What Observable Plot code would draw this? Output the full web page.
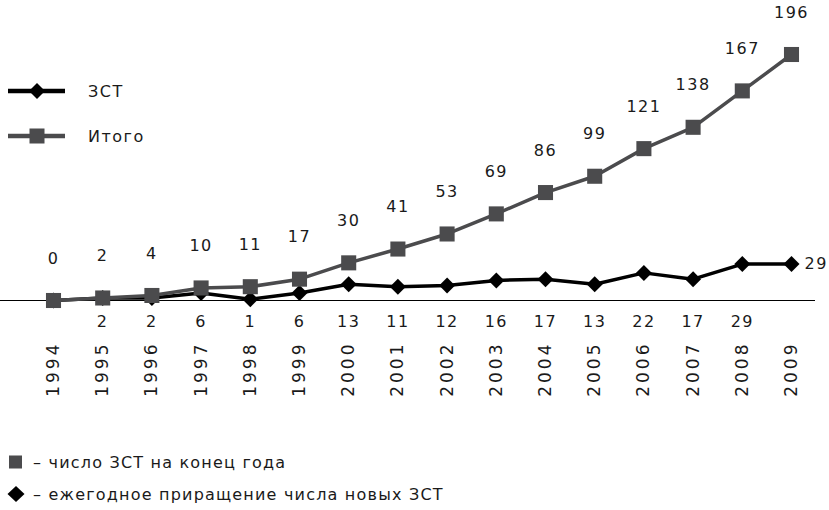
<!DOCTYPE html>
<html><head><meta charset="utf-8">
<script src="https://cdn.jsdelivr.net/npm/d3@7"></script>
<script src="https://cdn.jsdelivr.net/npm/@observablehq/plot@0.6"></script>
<style>
body{margin:0;background:#fff;font-family:"DejaVu Sans",sans-serif;color:#1a1a1a;}
#wrap{position:relative;width:829px;height:510px;overflow:hidden;}
#chart svg{display:block;}
#chart [aria-label="x-axis tick label"]{letter-spacing:3px;font-size:17px;}
#chart [aria-label="text"]{letter-spacing:1.5px;}
.tl{position:absolute;left:0;height:24px;display:flex;align-items:center;font-size:16px;letter-spacing:1.5px;}
.tl svg{display:block;}
.tl span{position:absolute;left:88px;white-space:nowrap;}
.note{height:32px;display:flex;align-items:center;font-size:16px;letter-spacing:1.2px;}
.note svg{display:block;margin-right:7px;}
</style></head><body>
<div id="wrap">
  <div id="chart"></div>
  <div id="legTop"></div>
  <div id="notes" style="margin-top:16px"></div>
</div>
<script>
const years = [1994,1995,1996,1997,1998,1999,2000,2001,2002,2003,2004,2005,2006,2007,2008,2009];
const total = [0,2,4,10,11,17,30,41,53,69,86,99,121,138,167,196];
const annual = [0,2,2,6,1,6,13,11,12,16,17,13,22,17,29,29];
const seriesNames = ["ЗСТ","Итого"];
const notes = ["– число ЗСТ на конец года","– ежегодное приращение числа новых ЗСТ"];

const GRAY = "#4b4b4d";
const BLACK = "#000";

const totalData = years.map((y,i)=>({year:y, v:total[i]}));
const annualData = years.map((y,i)=>({year:y, v:annual[i]}));
const annualBelow = annualData.filter((d,i)=> i>0 && i<years.length-1);
const annualLast = annualData.slice(-1);

const chart = Plot.plot({
  width: 829,
  height: 430,
  marginLeft: 53,
  marginRight: 38,
  marginTop: 54,
  marginBottom: 130,
  style: {fontFamily: '"DejaVu Sans", sans-serif', fontSize: "16px", color: "#1a1a1a"},
  x: {domain: [1994, 2009], ticks: years, tickFormat: d => String(d), tickSize: 0, tickPadding: 41, tickRotate: -90, label: null},
  y: {domain: [0, 196], axis: null},
  marks: [
    Plot.ruleY([0], {stroke: "#000", strokeWidth: 1, insetLeft: -53, insetRight: -24}),
    Plot.line(annualData, {x: "year", y: "v", stroke: BLACK, strokeWidth: 3.5}),
    Plot.dot(annualData, {x: "year", y: "v", symbol: "diamond2", r: 7.2, fill: BLACK, stroke: "none"}),
    Plot.line(totalData, {x: "year", y: "v", stroke: GRAY, strokeWidth: 3.5}),
    Plot.dot(totalData, {x: "year", y: "v", symbol: "square", r: 8.5, fill: GRAY, stroke: "none"}),
    Plot.text(totalData, {x: "year", y: "v", text: d => String(d.v), dy: -42, fill: "#1a1a1a"}),
    Plot.text(annualBelow, {x: "year", y: 0, text: d => String(d.v), dy: 21, fill: "#1a1a1a"}),
    Plot.text(annualLast, {x: "year", y: "v", text: d => String(d.v), dx: 13, textAnchor: "start", fill: "#1a1a1a"})
  ]
});
document.getElementById("chart").appendChild(chart);

// top-left legend
const legTop = document.getElementById("legTop");
const legSym = [
  `<svg width="70" height="24"><line x1="8" y1="12" x2="65" y2="12" stroke="${BLACK}" stroke-width="4.5"/><path d="M37,4 L45,12 L37,20 L29,12 Z" fill="${BLACK}"/></svg>`,
  `<svg width="70" height="24"><line x1="8" y1="12" x2="65" y2="12" stroke="${GRAY}" stroke-width="4.5"/><rect x="29.5" y="4.5" width="15" height="15" fill="${GRAY}"/></svg>`
];
const legTops = [79, 124];
seriesNames.forEach((n,i)=>{
  const d = document.createElement("div");
  d.className = "tl";
  d.style.top = legTops[i] + "px";
  d.innerHTML = legSym[i] + `<span>${n}</span>`;
  legTop.appendChild(d);
});

// bottom notes
const noteSym = [
  `<svg width="26" height="20"><rect x="9" y="3.5" width="13" height="13" fill="${GRAY}"/></svg>`,
  `<svg width="26" height="20"><path d="M16,2 L24.5,10 L16,18 L7.5,10 Z" fill="${BLACK}"/></svg>`
];
const notesDiv = document.getElementById("notes");
notes.forEach((t,i)=>{
  const d = document.createElement("div");
  d.className = "note";
  d.innerHTML = noteSym[i] + `<span>${t}</span>`;
  notesDiv.appendChild(d);
});
</script>
</body></html>
